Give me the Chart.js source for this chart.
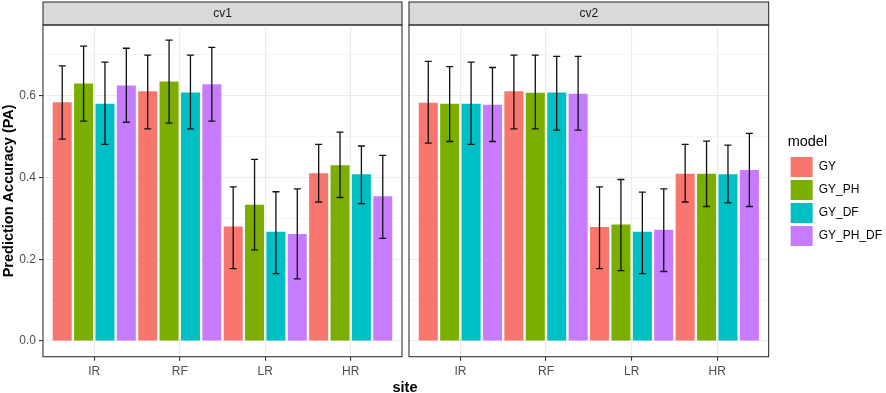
<!DOCTYPE html>
<html><head><meta charset="utf-8">
<script src="https://cdn.jsdelivr.net/npm/chart.js@4/dist/chart.umd.min.js"></script>
<style>
html,body{margin:0;padding:0;background:#fff;}
#wrap{position:relative;width:886px;height:393px;overflow:hidden;background:#fff;}
#c1{position:absolute;left:0;top:0;}
#c2{position:absolute;left:405px;top:0;}
#xtitle{position:absolute;left:355px;width:100px;top:378.5px;text-align:center;font:bold 14.5px "Liberation Sans",Arial,sans-serif;color:#000;line-height:17px;}
</style></head><body>
<div id="wrap">
<canvas id="c1" width="405" height="393"></canvas>
<canvas id="c2" width="487" height="393"></canvas>
<div id="xtitle">site</div>
</div>
<script>
// ---- data ----
const sites = ['IR', 'RF', 'LR', 'HR'];
const models = ['GY', 'GY_PH', 'GY_DF', 'GY_PH_DF'];
const facets = ['cv1', 'cv2'];
const yMajor = [0.0, 0.2, 0.4, 0.6];
const yMinor = [0.1, 0.3, 0.5, 0.7];

// cv1: mean, lower and upper error limits per model across sites
const cv1_GY_mean = [0.584, 0.611, 0.280, 0.410];
const cv1_GY_lo   = [0.494, 0.519, 0.177, 0.340];
const cv1_GY_hi   = [0.673, 0.699, 0.377, 0.481];
const cv1_GY_PH_mean = [0.630, 0.635, 0.333, 0.430];
const cv1_GY_PH_lo   = [0.538, 0.533, 0.223, 0.351];
const cv1_GY_PH_hi   = [0.721, 0.736, 0.444, 0.511];
const cv1_GY_DF_mean = [0.580, 0.608, 0.267, 0.408];
const cv1_GY_DF_lo   = [0.481, 0.519, 0.165, 0.336];
const cv1_GY_DF_hi   = [0.682, 0.699, 0.365, 0.477];
const cv1_GY_PH_DF_mean = [0.625, 0.628, 0.262, 0.354];
const cv1_GY_PH_DF_lo   = [0.535, 0.538, 0.152, 0.251];
const cv1_GY_PH_DF_hi   = [0.716, 0.718, 0.372, 0.454];

// cv2
const cv2_GY_mean = [0.583, 0.611, 0.279, 0.409];
const cv2_GY_lo   = [0.484, 0.519, 0.177, 0.340];
const cv2_GY_hi   = [0.684, 0.699, 0.377, 0.481];
const cv2_GY_PH_mean = [0.580, 0.607, 0.285, 0.409];
const cv2_GY_PH_lo   = [0.488, 0.519, 0.172, 0.329];
const cv2_GY_PH_hi   = [0.671, 0.699, 0.395, 0.489];
const cv2_GY_DF_mean = [0.580, 0.608, 0.267, 0.408];
const cv2_GY_DF_lo   = [0.481, 0.516, 0.165, 0.338];
const cv2_GY_DF_hi   = [0.682, 0.696, 0.364, 0.479];
const cv2_GY_PH_DF_mean = [0.578, 0.605, 0.272, 0.418];
const cv2_GY_PH_DF_lo   = [0.488, 0.516, 0.170, 0.329];
const cv2_GY_PH_DF_hi   = [0.669, 0.696, 0.372, 0.508];

// ---- style ----
const colors = ['#F8766D', '#7CAE00', '#00BFC4', '#C77CFF'];
const FONT = "'Liberation Sans', Arial, sans-serif";
Chart.defaults.font.family = FONT;

const isMajor = v => yMajor.some(m => Math.abs(m - v) < 1e-6);

const facetPlugin = {
  id: 'facet',
  beforeDraw(chart) {
    const {ctx, chartArea: a} = chart;
    ctx.save();
    ctx.fillStyle = '#D9D9D9';
    ctx.fillRect(a.left, 2, a.right - a.left, a.top - 2);
    ctx.strokeStyle = '#333333';
    ctx.lineWidth = 1.1;
    ctx.strokeRect(a.left, 2, a.right - a.left, a.top - 2);
    ctx.restore();
  },
  afterDatasetsDraw(chart) {
    const {ctx, chartArea: a} = chart;
    const ys = chart.scales.y;
    ctx.save();
    ctx.strokeStyle = '#111111';
    ctx.lineWidth = 1.3;
    const cap = 3.5;
    chart.data.datasets.forEach((ds, i) => {
      const meta = chart.getDatasetMeta(i);
      meta.data.forEach((bar, j) => {
        const x = bar.x;
        const y1 = ys.getPixelForValue(ds.errLo[j]);
        const y2 = ys.getPixelForValue(ds.errHi[j]);
        ctx.beginPath();
        ctx.moveTo(x, y1); ctx.lineTo(x, y2);
        ctx.moveTo(x - cap, y1); ctx.lineTo(x + cap, y1);
        ctx.moveTo(x - cap, y2); ctx.lineTo(x + cap, y2);
        ctx.stroke();
      });
    });
    ctx.strokeStyle = '#333333';
    ctx.lineWidth = 1.1;
    ctx.strokeRect(a.left, a.top, a.right - a.left, a.bottom - a.top);
    ctx.restore();
  }
};

function makeChart(id, facet, means, los, his, first) {
  const datasets = models.map((m, i) => ({
    label: m,
    data: sites.map((s, j) => ({x: j + 1, y: means[i][j]})),
    errLo: los[i],
    errHi: his[i],
    backgroundColor: colors[i],
    borderWidth: 0,
    barPercentage: 0.89,
    categoryPercentage: 1.0
  }));
  const scales = {
    x: {
      type: 'linear', min: 0.4, max: 4.6, offset: false,
      afterBuildTicks: s => { s.ticks = sites.map((_, i) => ({value: i + 1})); },
      ticks: {callback: (v, i) => sites[i], color: '#4D4D4D', font: {size: 12}, padding: 4, maxRotation: 0, autoSkip: false},
      grid: {offset: false, color: '#EBEBEB', lineWidth: 1.1, tickColor: '#333333', tickLength: 4, tickWidth: 1.1},
      border: {display: false},
      afterFit: s => { s.height = 36.3; }
    },
    y: {
      type: 'linear', min: -0.0384, max: 0.7729,
      afterBuildTicks: s => { s.ticks = yMajor.concat(yMinor).sort((a, b) => a - b).map(v => ({value: v})); },
      ticks: {display: first, callback: v => isMajor(v) ? v.toFixed(1) : '', color: '#4D4D4D', font: {size: 12}, padding: 3, autoSkip: false},
      grid: {
        color: '#EBEBEB',
        lineWidth: c => (c.tick && isMajor(c.tick.value)) ? 1.1 : 0.55,
        drawTicks: first,
        tickColor: c => (c.tick && isMajor(c.tick.value)) ? '#333333' : 'rgba(0,0,0,0)',
        tickLength: 4, tickWidth: 1.1
      },
      border: {display: false},
      title: {display: first, text: 'Prediction Accuracy (PA)', color: '#000', font: {size: 14.5, weight: 'bold'}, padding: 0},
      afterFit: s => { s.width = first ? 43 : 4; }
    }
  };
  if (!first) {
    scales.gap = {
      type: 'linear', position: 'right', display: true,
      ticks: {display: false}, grid: {display: false}, border: {display: false},
      afterFit: s => { s.width = 19; }
    };
  }
  return new Chart(document.getElementById(id), {
    type: 'bar',
    data: {datasets},
    options: {
      responsive: false,
      animation: false,
      layout: {padding: first ? {top: 2, right: 3, left: 0, bottom: 0} : {top: 2, right: 0, left: 0, bottom: 0}},
      scales,
      plugins: {
        title: {display: true, text: facet, fullSize: false, color: '#1A1A1A', font: {size: 12, weight: 'normal'}, padding: {top: 4.3, bottom: 4.3}},
        legend: first ? {display: false} : {
          display: true, position: 'right', align: 'center', fullSize: false, maxWidth: 200,
          title: {display: true, text: 'model', color: '#000', font: {size: 14.5}, position: 'start', padding: {top: 2, bottom: 2}},
          labels: {boxWidth: 22, boxHeight: 20, padding: 3, color: '#000', font: {size: 12}}
        },
        tooltip: {enabled: false}
      }
    },
    plugins: [facetPlugin]
  });
}

const c1 = makeChart('c1', facets[0],
  [cv1_GY_mean, cv1_GY_PH_mean, cv1_GY_DF_mean, cv1_GY_PH_DF_mean],
  [cv1_GY_lo, cv1_GY_PH_lo, cv1_GY_DF_lo, cv1_GY_PH_DF_lo],
  [cv1_GY_hi, cv1_GY_PH_hi, cv1_GY_DF_hi, cv1_GY_PH_DF_hi], true);
const c2 = makeChart('c2', facets[1],
  [cv2_GY_mean, cv2_GY_PH_mean, cv2_GY_DF_mean, cv2_GY_PH_DF_mean],
  [cv2_GY_lo, cv2_GY_PH_lo, cv2_GY_DF_lo, cv2_GY_PH_DF_lo],
  [cv2_GY_hi, cv2_GY_PH_hi, cv2_GY_DF_hi, cv2_GY_PH_DF_hi], false);
</script>
</body></html>
